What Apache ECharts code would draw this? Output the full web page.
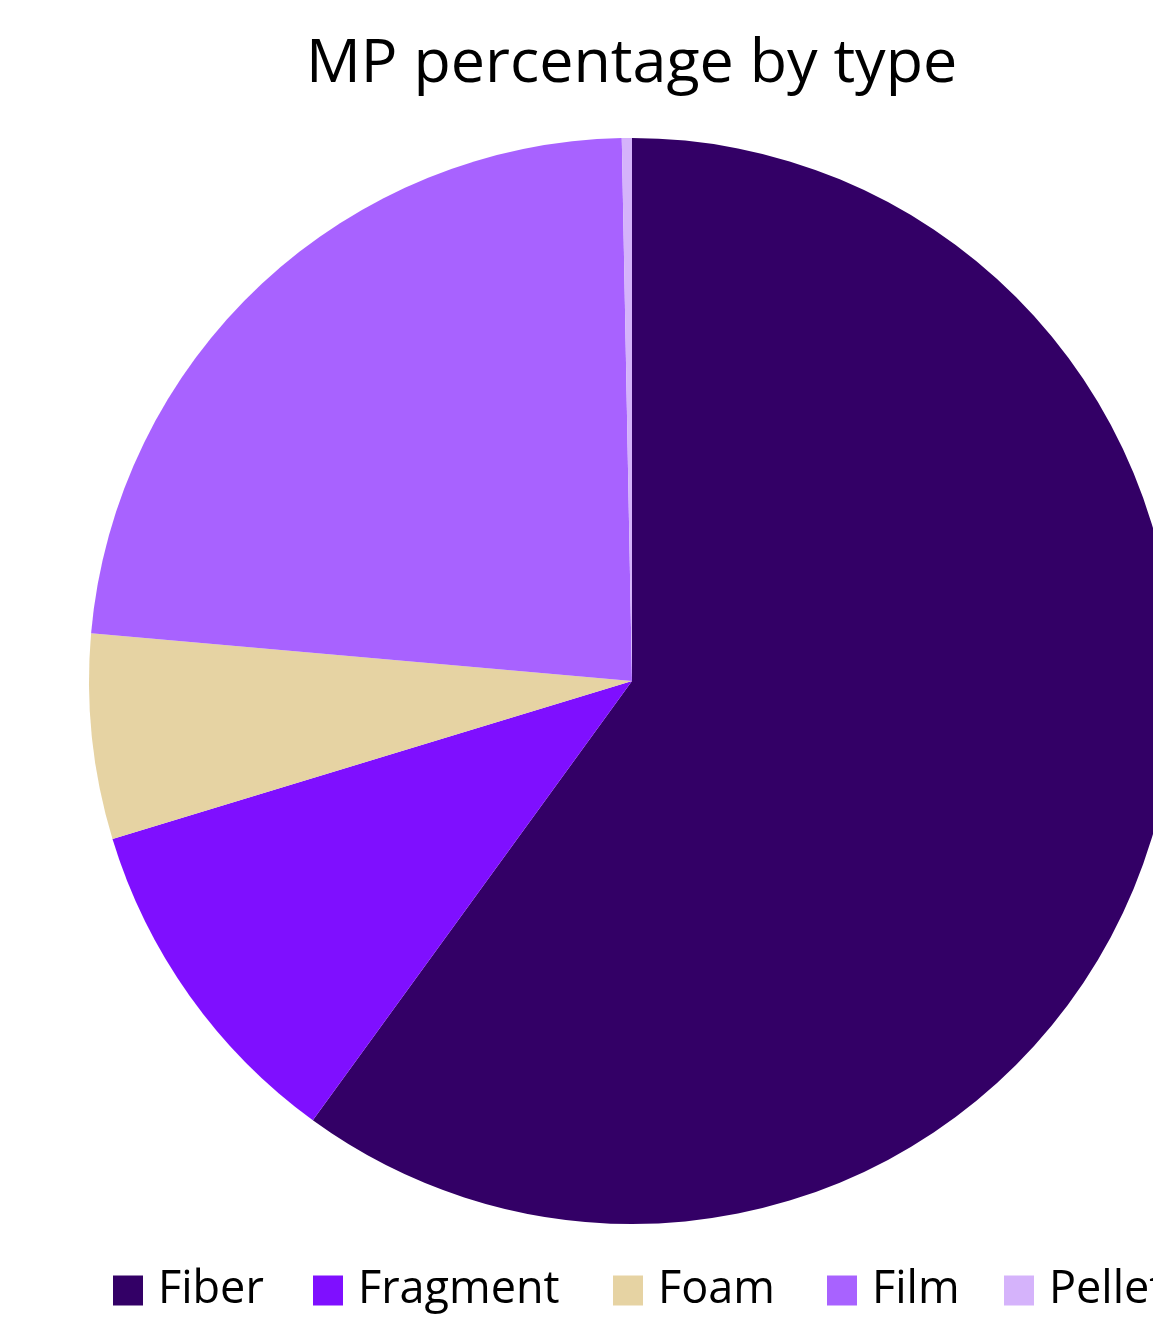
<!DOCTYPE html>
<html>
<head>
<meta charset="utf-8">
<script src="https://cdn.jsdelivr.net/npm/echarts@6/dist/echarts.min.js"></script>
<style>
  html, body { margin: 0; padding: 0; background: #fff; }
  #chart { width: 1153px; height: 1319px; }
</style>
</head>
<body>
<div id="chart"></div>
<script>
var types = ['Fiber', 'Fragment', 'Foam', 'Film', 'Pellet'];
var percents = [60.0, 10.3, 6.1, 23.3, 0.3];
var colors = ['#330066', '#7F0FFF', '#E6D3A3', '#A862FF', '#D5B3FB'];
// left edge of each legend swatch
var legendLeft = [113, 313, 613, 827, 1004];

var myChart = echarts.init(document.getElementById('chart'));

var pieData = types.map(function (t, i) {
    return { name: t, value: percents[i], itemStyle: { color: colors[i] } };
});

// one legend per entry so the row can run off the right edge like the original
var legends = types.map(function (t, i) {
    return {
        data: [t],
        left: legendLeft[i],
        top: 1268,
        padding: 0,
        icon: 'rect',
        itemWidth: 30,
        itemHeight: 30,
        textStyle: {
            fontFamily: 'Open Sans',
            fontSize: 45,
            color: '#000',
            padding: [0, 0, 0, 10]
        }
    };
});

var option = {
    animation: false,
    title: {
        text: 'MP percentage by type',
        left: 306,
        top: 34,
        padding: 0,
        textStyle: {
            fontFamily: 'Open Sans',
            fontWeight: 'normal',
            fontSize: 61,
            color: '#000'
        }
    },
    legend: legends,
    series: [
        {
            name: 'MP type',
            type: 'pie',
            center: [632, 681],
            radius: 543,
            startAngle: 90,
            clockwise: true,
            label: { show: false },
            labelLine: { show: false },
            emphasis: { disabled: true },
            data: pieData
        }
    ]
};

myChart.setOption(option);
</script>
</body>
</html>
